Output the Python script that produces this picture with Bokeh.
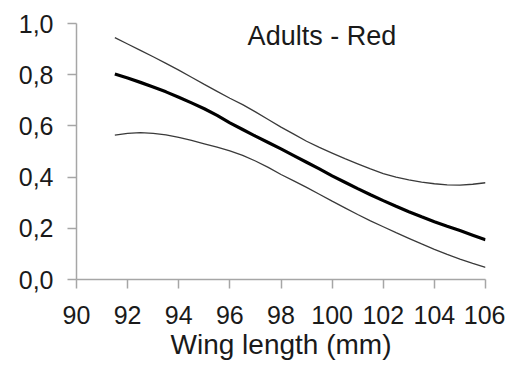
from bokeh.plotting import figure
from bokeh.models import FixedTicker, CustomJSTickFormatter, Label, Range1d
from bokeh.embed import file_html
from bokeh.resources import INLINE

wing = [91.5, 92, 92.5, 93, 93.5, 94, 94.5, 95, 95.5, 96, 96.5, 97, 97.5, 98, 98.5,
        99, 99.5, 100, 100.5, 101, 101.5, 102, 102.5, 103, 103.5, 104, 104.5, 105, 105.5, 106]
prob = [0.803, 0.787, 0.770, 0.752, 0.733, 0.712, 0.690, 0.667, 0.641, 0.612, 0.586, 0.560, 0.535, 0.510, 0.484,
        0.458, 0.432, 0.405, 0.380, 0.355, 0.331, 0.308, 0.286, 0.265, 0.245, 0.226, 0.208, 0.191, 0.173, 0.155]
upper = [0.945, 0.920, 0.895, 0.870, 0.844, 0.818, 0.790, 0.762, 0.735, 0.708, 0.683, 0.655, 0.625, 0.595, 0.568,
         0.540, 0.516, 0.494, 0.472, 0.452, 0.432, 0.414, 0.400, 0.389, 0.380, 0.374, 0.370, 0.369, 0.372, 0.378]
lower = [0.564, 0.571, 0.574, 0.571, 0.565, 0.555, 0.543, 0.530, 0.517, 0.502, 0.485, 0.463, 0.438, 0.410, 0.385,
         0.360, 0.333, 0.306, 0.280, 0.254, 0.229, 0.206, 0.183, 0.161, 0.139, 0.118, 0.098, 0.080, 0.063, 0.047]
x_ticks = [90, 92, 94, 96, 98, 100, 102, 104, 106]
y_ticks = [0.0, 0.2, 0.4, 0.6, 0.8, 1.0]
title_text = "Adults - Red"
x_label = "Wing length (mm)"

FONT = "Liberation Sans"
AXIS_COLOR = "#a6a6a6"

p = figure(width=505, height=368, output_backend="svg", toolbar_location=None,
           x_range=Range1d(90, 106), y_range=Range1d(0, 1.0),
           min_border_left=76, min_border_right=20, min_border_top=23, min_border_bottom=89)
p.outline_line_color = None
p.xgrid.grid_line_color = None
p.ygrid.grid_line_color = None
p.background_fill_color = "white"
p.border_fill_color = "white"

p.line(wing, upper, line_color="#3a3a3a", line_width=1.3)
p.line(wing, lower, line_color="#3a3a3a", line_width=1.3)
p.line(wing, prob, line_color="black", line_width=3.2)

for ax in (p.xaxis[0], p.yaxis[0]):
    ax.axis_line_color = AXIS_COLOR
    ax.axis_line_width = 1.5
    ax.major_tick_line_color = AXIS_COLOR
    ax.major_tick_line_width = 1.5
    ax.major_tick_out = 9
    ax.major_tick_in = 0
    ax.minor_tick_line_color = None
    ax.major_label_text_font = FONT
    ax.major_label_text_font_size = "25px"
    ax.major_label_text_color = "#1a1a1a"

p.xaxis.ticker = FixedTicker(ticks=x_ticks)
p.yaxis.ticker = FixedTicker(ticks=y_ticks)
p.yaxis.formatter = CustomJSTickFormatter(code="return tick.toFixed(1).replace('.', ',');")
p.xaxis.major_label_standoff = 17
p.yaxis.major_label_standoff = 14
p.xaxis.axis_label = x_label
p.xaxis.axis_label_text_font = FONT
p.xaxis.axis_label_text_font_size = "28px"
p.xaxis.axis_label_text_font_style = "normal"
p.xaxis.axis_label_text_color = "#1a1a1a"
p.xaxis.axis_label_standoff = 2

p.add_layout(Label(x=99.6, y=0.95, text=title_text, text_align="center",
                   text_baseline="alphabetic", text_font=FONT,
                   text_font_size="27px", text_color="#1a1a1a"))

open("out.html", "w").write(file_html(p, INLINE))
